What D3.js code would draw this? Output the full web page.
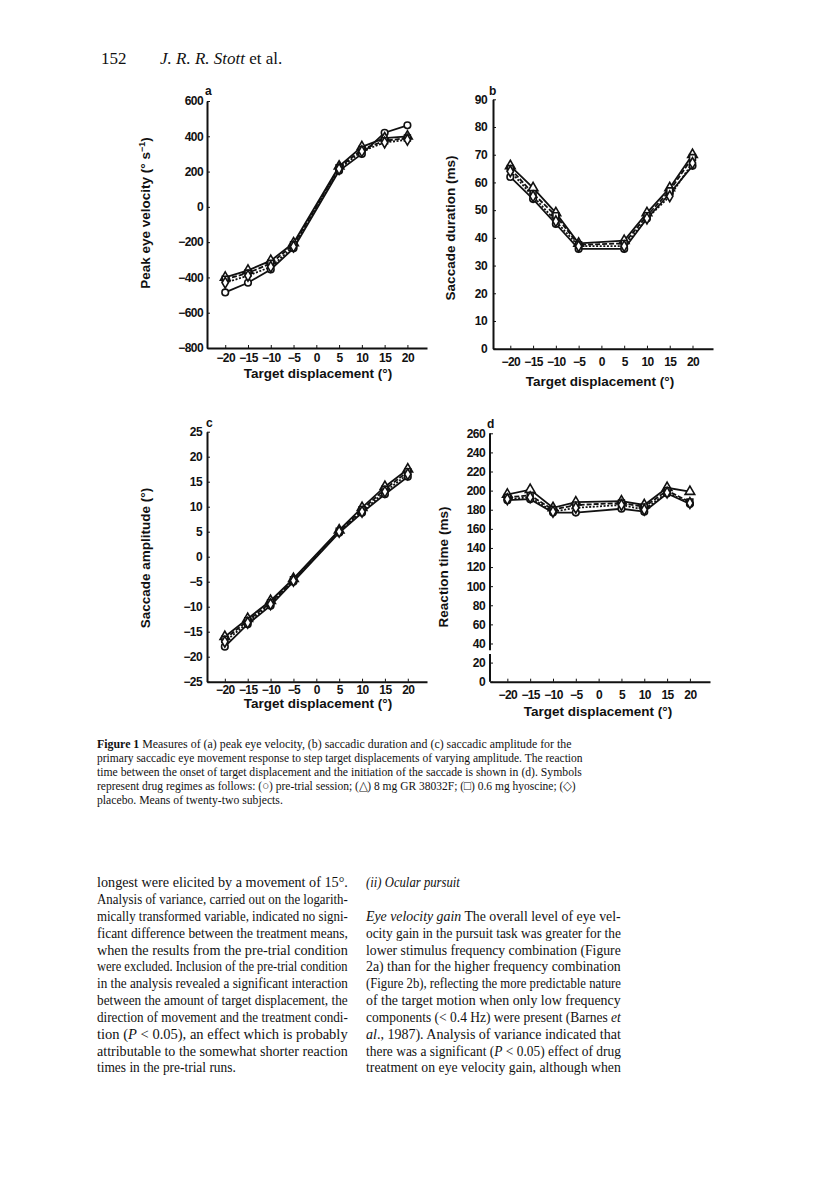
<!DOCTYPE html>
<html lang="en">
<head>
<meta charset="UTF-8">
<title>Figure 1 - saccadic measures</title>
<script src="https://d3js.org/d3.v7.min.js"></script>
<style>
    body { margin: 0; background: #fff; }
    svg { display: block; }
    .tick text { font-family: "Liberation Sans", Arial, sans-serif; font-weight: bold; font-size: 12px; fill: #111; letter-spacing: -0.6px; }
    .tick line, .domain { stroke: #111; }
    .axis-title { font-family: "Liberation Sans", Arial, sans-serif; font-weight: bold; font-size: 13.5px; fill: #111; }
    .panel-letter { font-family: "Liberation Sans", Arial, sans-serif; font-weight: bold; font-size: 12px; fill: #111; }
    .serif { font-family: "Liberation Serif", "Times New Roman", serif; fill: #111; }
    .series { fill: none; stroke: #111; stroke-width: 1.8; }
    .marker { fill: #fff; stroke: #111; stroke-width: 1.6; }
</style>
</head>
<body>
<div id="page"></div>
<script>
// target displacement (deg), same for all panels
const displacement = [-20, -15, -10, -5, 5, 10, 15, 20];
const xTicks = [-20, -15, -10, -5, 0, 5, 10, 15, 20];

// (a) peak eye velocity (deg/s)
const velocityPre = [-485, -430, -355, -235, 204, 300, 420, 462];
const velocityGR = [-400, -360, -305, -205, 230, 340, 390, 400];
const velocityHyo = [-410, -375, -320, -215, 222, 325, 375, 390];
const velocityPla = [-430, -390, -340, -225, 215, 315, 365, 380];
const velocityTicks = [-800, -600, -400, -200, 0, 200, 400, 600];

// (b) saccade duration (ms)
const durationPre = [62, 54, 45, 36, 36, 47, 56, 66];
const durationGR = [66, 58, 49, 38, 39, 49, 58, 70];
const durationHyo = [65, 56, 48, 37.5, 38, 48, 57, 69];
const durationPla = [64, 55, 46, 37, 37, 47, 55, 67];
const durationTicks = [0, 10, 20, 30, 40, 50, 60, 70, 80, 90];

// (c) saccade amplitude (deg)
const amplitudePre = [-18, -13.5, -9.8, -5, 4.8, 8.8, 12.5, 16];
const amplitudeGR = [-16, -12.4, -8.8, -4.4, 5.3, 9.8, 14, 17.5];
const amplitudeHyo = [-16.5, -12.8, -9.2, -4.6, 5.1, 9.4, 13.5, 17];
const amplitudePla = [-17, -13.2, -9.5, -4.8, 5, 9, 13, 16.5];
const amplitudeTicks = [-25, -20, -15, -10, -5, 0, 5, 10, 15, 20, 25];

// (d) reaction time (ms)
const reactionPre = [190, 191, 177, 177, 181, 178, 197, 186];
const reactionGR = [196, 201, 182, 188, 189, 185, 203, 199];
const reactionHyo = [193, 195, 180, 185, 187, 183, 200, 188];
const reactionPla = [191, 193, 178, 182, 185, 180, 198, 187];
const reactionTicks = [0, 20, 40, 60, 80, 100, 120, 140, 160, 180, 200, 220, 240, 260];

// pre-trial, 8 mg GR 38032F, 0.6 mg hyoscine, placebo
const drugSymbols = [d3.symbolCircle, d3.symbolTriangle, d3.symbolSquare, d3.symbolDiamond];
const drugDash = [null, null, "5,2", "2,1.6"];

const W = 816, H = 1179;
const svg = d3.select("#page").append("svg")
    .attr("width", W)
    .attr("height", H);
svg.append("rect").attr("width", W).attr("height", H).attr("fill", "#fff");

function drawPanel(p) {
    const g = svg.append("g");
    const x = d3.scaleLinear().domain(p.xDomain).range(p.xRange);
    const y = d3.scaleLinear().domain(p.yDomain).range(p.yRange);

    const yAxis = g.append("g")
        .attr("transform", `translate(${p.xRange[0]},0)`)
        .call(d3.axisLeft(y).tickValues(p.yTicks).tickSizeInner(-3).tickSizeOuter(0).tickPadding(p.yPad));
    yAxis.attr("font-family", null).attr("font-size", null);
    yAxis.select(".domain").attr("stroke-width", 2);
    if (p.yBreak) {
        // broken axis between 20 and 40
        yAxis.select(".domain").remove();
        [[p.yDomain[0], p.yBreak[0]], [p.yBreak[1], p.yDomain[1]]].forEach(seg => {
            yAxis.append("line")
                .attr("x1", 0).attr("x2", 0)
                .attr("y1", y(seg[0])).attr("y2", y(seg[1]))
                .attr("stroke", "#111").attr("stroke-width", 2);
        });
    }

    const xAxis = g.append("g")
        .attr("transform", `translate(0,${p.yRange[0]})`)
        .call(d3.axisBottom(x).tickValues(xTicks).tickSizeInner(-3).tickSizeOuter(0).tickPadding(p.xPad));
    xAxis.attr("font-family", null).attr("font-size", null);
    xAxis.select(".domain").attr("stroke-width", 2);

    const line = d3.line()
        .x((d, i) => x(displacement[i]))
        .y(d => y(d));

    p.series.forEach((s, k) => {
        g.append("path")
            .attr("class", "series")
            .attr("d", line(s))
            .attr("stroke-dasharray", drugDash[k]);
    });
    p.series.forEach((s, k) => {
        g.selectAll(null)
            .data(s)
            .enter()
            .append("path")
            .attr("class", "marker")
            .attr("d", d3.symbol().type(drugSymbols[k]).size(k === 1 ? 40 : 34))
            .attr("transform", (d, i) => `translate(${x(displacement[i])},${y(d)})`);
    });

    g.append("text")
        .attr("class", "panel-letter")
        .attr("x", p.letterPos[0]).attr("y", p.letterPos[1])
        .text(p.letter);

    g.append("text")
        .attr("class", "axis-title")
        .attr("x", p.xTitlePos[0]).attr("y", p.xTitlePos[1])
        .attr("text-anchor", "middle")
        .text("Target displacement (°)");

    const yt = g.append("text")
        .attr("class", "axis-title")
        .attr("text-anchor", "middle")
        .attr("transform", `translate(${p.yTitlePos[0]},${p.yTitlePos[1]}) rotate(-90)`);
    p.yTitle(yt);
}

drawPanel({
    letter: "a", letterPos: [205, 95],
    xDomain: [-24, 24.3], xRange: [207, 427],
    yDomain: [-800, 600], yRange: [348, 101],
    yTicks: velocityTicks, yPad: 4, xPad: 5,
    series: [velocityPre, velocityGR, velocityHyo, velocityPla],
    xTitlePos: [318, 378], yTitlePos: [150, 213],
    yTitle: t => {
        t.append("tspan").text("Peak eye velocity (° s");
        t.append("tspan").attr("font-size", 9).attr("dy", -5).text("−1");
        t.append("tspan").attr("dy", 5).text(")");
    }
});

drawPanel({
    letter: "b", letterPos: [489, 95],
    xDomain: [-23.8, 24.5], xRange: [493, 713],
    yDomain: [0, 90], yRange: [348.7, 99.3],
    yTicks: durationTicks, yPad: 6, xPad: 9,
    series: [durationPre, durationGR, durationHyo, durationPla],
    xTitlePos: [600, 386], yTitlePos: [455, 228],
    yTitle: t => t.text("Saccade duration (ms)")
});

drawPanel({
    letter: "c", letterPos: [206, 427],
    xDomain: [-23.9, 24.2], xRange: [207, 427],
    yDomain: [-25, 25], yRange: [681.7, 431.7],
    yTicks: amplitudeTicks, yPad: 5, xPad: 4,
    series: [amplitudePre, amplitudeGR, amplitudeHyo, amplitudePla],
    xTitlePos: [318, 708], yTitlePos: [150, 558],
    yTitle: t => t.text("Saccade amplitude (°)")
});

drawPanel({
    letter: "d", letterPos: [487, 428],
    xDomain: [-23.8, 24.4], xRange: [490, 710],
    yDomain: [0, 260], yRange: [681.7, 433.3],
    yTicks: reactionTicks, yPad: 5, xPad: 9, yBreak: [29, 33],
    series: [reactionPre, reactionGR, reactionHyo, reactionPla],
    xTitlePos: [598, 716], yTitlePos: [448, 567],
    yTitle: t => t.text("Reaction time (ms)")
});

// running head
const head = svg.append("text").attr("class", "serif").attr("font-size", 17).attr("y", 64);
head.append("tspan").attr("x", 101).text("152");
head.append("tspan").attr("x", 160).attr("font-style", "italic").text("J. R. R. Stott");
head.append("tspan").text(" et al.");

// squeeze or stretch a whole line to its width in the scan
function setLine(segs, x0, y, width, size) {
    const t = svg.append("text").attr("class", "serif")
        .attr("x", 0).attr("y", 0)
        .attr("font-size", size);
    segs.forEach(s => {
        const ts = t.append("tspan").text(s[1]);
        if (s[0] === "b") ts.attr("font-weight", "bold");
        if (s[0] === "i") ts.attr("font-style", "italic");
    });
    const w = t.node().getComputedTextLength();
    t.attr("transform", `translate(${x0},${y}) scale(${width / w},1)`);
}

// caption, each line: [segments, width]
const captionLines = [
    [[["b", "Figure 1"], ["", "   Measures of (a) peak eye velocity, (b) saccadic duration and (c) saccadic amplitude for the"]], 475],
    [[["", "primary saccadic eye movement response to step target displacements of varying amplitude. The reaction"]], 486],
    [[["", "time between the onset of target displacement and the initiation of the saccade is shown in (d). Symbols"]], 485],
    [[["", "represent drug regimes as follows: (○) pre-trial session; (△) 8 mg GR 38032F; (□) 0.6 mg hyoscine; (◇)"]], 480],
    [[["", "placebo. Means of twenty-two subjects."]], 186]
];
captionLines.forEach((ln, i) => setLine(ln[0], 97, 748 + i * 14, ln[1], 13));

// body text columns
const leftCol = [
    [[["", "longest were elicited by a movement of 15°."]], 251],
    [[["", "Analysis of variance, carried out on the logarith-"]], 251],
    [[["", "mically transformed variable, indicated no signi-"]], 251],
    [[["", "ficant difference between the treatment means,"]], 251],
    [[["", "when the results from the pre-trial condition"]], 251],
    [[["", "were excluded. Inclusion of the pre-trial condition"]], 251],
    [[["", "in the analysis revealed a significant interaction"]], 251],
    [[["", "between the amount of target displacement, the"]], 251],
    [[["", "direction of movement and the treatment condi-"]], 251],
    [[["", "tion ("], ["i", "P"], ["", " < 0.05), an effect which is probably"]], 251],
    [[["", "attributable to the somewhat shorter reaction"]], 251],
    [[["", "times in the pre-trial runs."]], 139]
];
const rightCol = [
    [[["i", "(ii) Ocular pursuit"]], 94],
    null,
    [[["i", "Eye velocity gain"], ["", "   The overall level of eye vel-"]], 255],
    [[["", "ocity gain in the pursuit task was greater for the"]], 255],
    [[["", "lower stimulus frequency combination (Figure"]], 255],
    [[["", "2a) than for the higher frequency combination"]], 255],
    [[["", "(Figure 2b), reflecting the more predictable nature"]], 255],
    [[["", "of the target motion when only low frequency"]], 255],
    [[["", "components (< 0.4 Hz) were present (Barnes "], ["i", "et"]], 255],
    [[["i", "al"], ["", "., 1987). Analysis of variance indicated that"]], 255],
    [[["", "there was a significant ("], ["i", "P"], ["", " < 0.05) effect of drug"]], 255],
    [[["", "treatment on eye velocity gain, although when"]], 255]
];

function drawColumn(lines, x0) {
    lines.forEach((ln, i) => {
        if (!ln) return;
        setLine(ln[0], x0, 887.3 + i * 16.83, ln[1], 14.5);
    });
}
drawColumn(leftCol, 97);
drawColumn(rightCol, 366);
</script>
</body>
</html>
